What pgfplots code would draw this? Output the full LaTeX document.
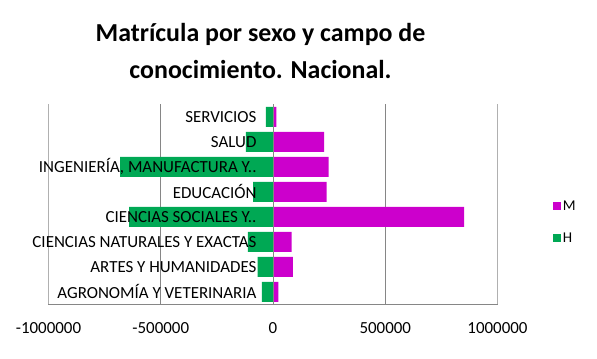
\documentclass[border=0pt]{standalone}
\usepackage{pgfplots}
\pgfplotsset{compat=1.18}
\usepackage{fontspec}
\setmainfont{Carlito}
\definecolor{cM}{RGB}{204,0,204}
\definecolor{cH}{RGB}{0,168,84}
\definecolor{gridgray}{RGB}{134,134,134}
\pgfplotstableread{
y H M
0 -50000 24000
1 -68000 88000
2 -112000 83000
3 -641000 851000
4 -89000 239000
5 -681000 248000
6 -121000 228000
7 -32000 15000
}\datatable
\begin{document}
\begin{tikzpicture}[x=1bp,y=1bp]
\path[use as bounding box] (-48.5,-53.7) rectangle (548.5,304.3);
\node[font=\fontsize{26}{37}\selectfont\bfseries, align=center] at (212,253) {Matrícula por sexo y campo de\\conocimiento. Nacional.};
\begin{axis}[
  axis on top,
  at={(0,0)}, anchor=south west, scale only axis,
  width=449bp, height=200bp,
  xmin=-1000000, xmax=1000000, ymin=-0.5, ymax=7.5,
  axis x line=bottom, axis y line=middle,
  axis line style={-, gridgray, line width=0.8bp},
  xtick={-1000000,-500000,0,500000,1000000},
  scaled x ticks=false,
  /pgf/number format/.cd, fixed, 1000 sep={}, assume math mode=true, /pgfplots/.cd,
  xticklabel style={font=\fontsize{17}{19}\selectfont, yshift=-15bp},
  ytick={0,...,7},
  yticklabels={AGRONOMÍA Y VETERINARIA, ARTES Y HUMANIDADES, CIENCIAS NATURALES Y EXACTAS, CIENCIAS SOCIALES Y.., EDUCACIÓN, {INGENIERÍA, MANUFACTURA Y..}, SALUD, SERVICIOS},
  yticklabel style={font=\fontsize{17}{19}\selectfont, xshift=-13bp, anchor=east},
  major tick length=0pt,
  legend style={at={(axis description cs:1.123,0.41)}, anchor=west, draw=none, fill=none, font=\fontsize{15}{17}\selectfont, row sep=17bp, inner sep=0pt},
  legend cell align=left,
]
\draw[gridgray, line width=0.8bp] (axis cs:-1000000,-0.5) -- (axis cs:-1000000,7.5);
\draw[gridgray, line width=0.8bp] (axis cs:-500000,-0.5) -- (axis cs:-500000,7.5);
\draw[gridgray, line width=0.8bp] (axis cs:500000,-0.5) -- (axis cs:500000,7.5);
\draw[gridgray, line width=0.8bp] (axis cs:1000000,-0.5) -- (axis cs:1000000,7.5);
\addplot[xbar, bar shift=0pt, bar width=0.8, fill=cM, draw=none,
  legend image code/.code={\fill[cM] (0bp,-4bp) rectangle (8bp,4bp);}] table[x=M, y=y] {\datatable};
\addlegendentry{M}
\addplot[xbar, bar shift=0pt, bar width=0.8, fill=cH, draw=none,
  legend image code/.code={\fill[cH] (0bp,-4bp) rectangle (8bp,4bp);}] table[x=H, y=y] {\datatable};
\addlegendentry{H}
\end{axis}
\end{tikzpicture}
\end{document}
